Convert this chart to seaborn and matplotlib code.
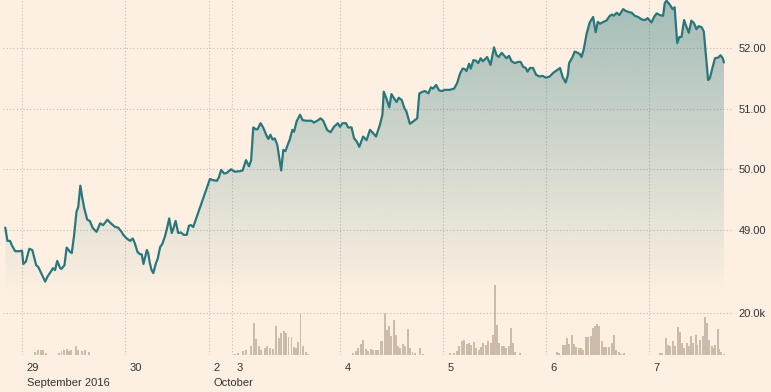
import numpy as np
import matplotlib
matplotlib.use('Agg')
import matplotlib.pyplot as plt
from matplotlib.colors import to_rgb
import seaborn as sns

# session hours with the weekend squeezed out, 0 = 29 Sep 00:00
hours = [-3.9, -3.4, -2.8, -2.3, -1.6, -0.5, 0.0, 0.3, 0.9, 1.7, 2.4, 3.3, 3.8, 4.6, 5.4, 6.0,
         6.5, 7.2, 7.7, 8.2, 8.9, 9.2, 9.9, 10.4, 11.2, 11.6, 12.1, 12.7, 13.1, 13.6, 14.0, 14.5,
         15.2, 15.8, 16.5, 17.4, 18.2, 18.9, 19.9, 20.7, 21.7, 22.4, 23.2, 23.6, 24.4, 25.2, 25.8,
         26.3, 26.9, 27.5, 27.9, 28.3, 29.1, 29.4, 29.8, 30.2, 30.6, 31.2, 31.6, 32.2, 32.7, 33.3,
         33.8, 34.3, 34.9, 35.3, 35.8, 36.4, 37.0, 37.7, 38.4, 38.9, 39.4, 39.9, 43.8, 44.6, 45.4,
         45.9, 46.4, 47.1, 47.7, 48.7, 49.6, 50.8, 51.4, 52.2, 52.9, 53.4, 53.9, 54.5, 54.9, 55.6,
         56.2, 56.9, 57.4, 57.9, 58.4, 58.9, 59.5, 59.9, 60.4, 60.9, 61.4, 61.9, 62.4, 63.0, 63.4,
         64.0, 64.8, 65.4, 66.3, 67.5, 68.0, 68.8, 69.6, 70.2, 71.1, 71.9, 72.7, 73.6, 74.1, 74.7,
         75.5, 76.0, 76.8, 77.4, 78.0, 78.6, 79.5, 80.3, 81.1, 81.9, 82.5, 83.4, 84.0, 84.3, 84.9,
         85.6, 86.1, 86.7, 87.3, 87.8, 88.5, 89.1, 89.6, 90.4, 91.0, 92.1, 92.6, 93.4, 93.9, 94.7,
         95.3, 95.8, 96.5, 97.2, 97.8, 98.6, 99.7, 100.7, 101.4, 102.1, 102.7, 103.2, 103.6, 104.2,
         104.6, 105.2, 105.8, 106.3, 106.9, 107.4, 108.4, 109.2, 110.0, 110.6, 111.1, 111.8, 112.3,
         112.9, 113.5, 114.1, 114.9, 115.6, 116.2, 116.8, 117.4, 117.8, 118.4, 119.1, 119.8, 120.5,
         121.3, 122.1, 123.0, 123.8, 124.4, 125.4, 126.0, 126.7, 127.2, 127.5, 128.3, 128.8, 129.5,
         130.0, 130.4, 130.9, 131.6, 132.3, 133.1, 133.7, 134.2, 134.7, 135.5, 136.2, 137.0, 137.5,
         137.9, 138.6, 139.2, 140.1, 140.7, 141.5, 142.1, 142.8, 143.6, 144.4, 145.2, 145.8, 146.7,
         147.3, 147.9, 148.7, 149.4, 149.8, 150.2, 151.0, 151.6, 152.1, 152.7, 153.2, 153.7, 154.3,
         154.9, 155.4, 156.0, 156.6, 157.2, 157.7, 158.4, 158.9, 159.4, 159.9, 160.3, 160.9, 161.5,
         162.2, 162.8, 163.3, 163.6]
price = [49.04, 48.82, 48.82, 48.74, 48.65, 48.65, 48.66, 48.44, 48.48, 48.69, 48.67, 48.42, 48.39,
         48.27, 48.15, 48.24, 48.29, 48.37, 48.34, 48.49, 48.37, 48.36, 48.42, 48.71, 48.64, 48.62,
         48.89, 49.30, 49.38, 49.73, 49.55, 49.36, 49.17, 49.15, 49.03, 48.97, 49.11, 49.08, 49.17,
         49.11, 49.05, 49.04, 48.97, 48.92, 48.86, 48.82, 48.86, 48.78, 48.64, 48.60, 48.60, 48.44,
         48.67, 48.62, 48.45, 48.34, 48.29, 48.45, 48.52, 48.72, 48.77, 48.89, 49.03, 49.19, 48.95,
         49.03, 49.15, 48.95, 48.96, 48.92, 48.92, 49.07, 49.08, 49.05, 49.84, 49.82, 49.81, 49.87,
         49.99, 49.93, 49.94, 50.00, 49.96, 49.97, 49.98, 50.15, 50.05, 50.15, 50.69, 50.66, 50.66,
         50.76, 50.69, 50.57, 50.50, 50.57, 50.49, 50.51, 50.40, 50.21, 49.98, 50.32, 50.30, 50.40,
         50.49, 50.65, 50.62, 50.79, 50.90, 50.81, 50.80, 50.80, 50.77, 50.80, 50.84, 50.80, 50.65,
         50.61, 50.70, 50.76, 50.70, 50.76, 50.76, 50.69, 50.69, 50.51, 50.46, 50.37, 50.54, 50.48,
         50.65, 50.59, 50.54, 50.73, 50.90, 51.28, 51.17, 51.02, 51.24, 51.17, 51.11, 51.18, 51.14,
         51.01, 50.95, 50.75, 50.78, 50.84, 51.25, 51.28, 51.29, 51.25, 51.35, 51.33, 51.39, 51.30,
         51.29, 51.31, 51.31, 51.33, 51.42, 51.58, 51.66, 51.65, 51.62, 51.74, 51.66, 51.80, 51.79,
         51.75, 51.83, 51.78, 51.85, 51.72, 52.01, 51.88, 51.85, 51.92, 51.88, 51.83, 51.87, 51.78,
         51.75, 51.77, 51.77, 51.69, 51.67, 51.61, 51.67, 51.67, 51.56, 51.53, 51.54, 51.51, 51.53,
         51.59, 51.62, 51.67, 51.52, 51.43, 51.55, 51.75, 51.85, 51.94, 51.92, 51.90, 51.85, 51.97,
         52.24, 52.42, 52.51, 52.26, 52.43, 52.40, 52.43, 52.45, 52.53, 52.55, 52.53, 52.58, 52.54,
         52.64, 52.61, 52.59, 52.58, 52.53, 52.51, 52.47, 52.46, 52.49, 52.42, 52.51, 52.57, 52.54,
         52.53, 52.74, 52.78, 52.71, 52.64, 52.67, 52.08, 52.18, 52.18, 52.46, 52.34, 52.25, 52.45,
         52.41, 52.31, 52.36, 52.34, 52.27, 51.86, 51.47, 51.50, 51.67, 51.83, 51.84, 51.88, 51.83,
         51.76]

vol_hours = [3.0, 3.8, 4.4, 5.0, 5.6, 8.7, 9.2, 9.8, 10.4, 11.0, 11.4, 12.6, 13.1, 13.9, 14.7, 15.7,
             49.6, 50.4, 51.4, 52.2, 53.3, 54.1, 54.6, 55.2, 55.8, 56.6, 57.2, 57.8, 58.4, 59.2,
             59.9, 60.3, 61.0, 61.6, 62.1, 62.8, 63.3, 63.8, 64.4, 64.9, 65.4, 66.2, 66.7,
             77.1, 77.8, 78.4, 78.9, 79.5, 80.1, 80.7, 81.3, 81.9, 82.5, 83.0, 83.6, 84.0, 84.5,
             85.0, 85.6, 86.0, 86.6, 87.1, 87.7, 88.2, 88.8, 89.3, 89.9, 90.5, 91.0, 91.6, 92.7, 93.4,
             99.7, 100.7, 101.3, 101.9, 102.5, 103.0, 103.6, 104.2, 104.7, 105.3, 105.8, 106.4,
             107.0, 107.5, 108.1, 108.7, 109.2, 109.7, 110.2, 110.7, 111.2, 111.8, 112.4, 112.9,
             113.4, 113.9, 114.5, 114.9, 116.0,
             124.7, 125.2, 126.0, 126.5, 127.0, 127.5, 128.2, 128.6, 129.2, 129.8, 130.3, 130.8,
             131.4, 132.0, 132.5, 133.1, 133.6, 134.1, 134.5, 135.1, 135.7, 136.2, 136.8, 137.4,
             137.9, 138.5, 139.2, 139.7, 140.3,
             148.7, 149.2, 150.0, 150.6, 151.1, 151.7, 152.2, 152.8, 153.3, 153.8, 154.3, 154.9,
             155.4, 155.9, 156.4, 157.0, 157.4, 158.0, 158.6, 159.1, 159.7, 160.1, 160.7, 161.2,
             161.6, 162.1, 162.5, 163.0, 163.6]
volume = [1260, 2200, 2500, 2200, 950, 950, 1700, 2200, 2800, 1700, 2500, 4400, 2200, 1700, 2200, 1600,
          600, 950, 1700, 2500, 4100, 15100, 7600, 4100, 2500, 3300, 4100, 3300, 2800, 13500,
          8000, 10400, 11500, 10400, 8500, 8500, 3800, 3300, 6300, 19800, 4100, 1300, 600,
          950, 1700, 3300, 5400, 7200, 2800, 1700, 2800, 2500, 2200, 2200, 6800, 6800, 19800,
          12000, 13900, 8800, 16700, 9600, 4100, 3300, 5400, 4100, 12300, 3300, 1300, 950, 3300, 600,
          950, 950, 2000, 4100, 6500, 7200, 5200, 5700, 4600, 6100, 3300, 2500,
          3800, 5700, 4900, 6500, 5700, 9600, 33200, 14300, 5700, 4100, 4400, 3300,
          4100, 13000, 5700, 1300, 950,
          1300, 950, 4900, 4900, 8000, 5400, 9600, 5400, 3800, 3300, 3300, 2200,
          8500, 8500, 8800, 12800, 13500, 14800, 13500, 6800, 3800, 3800, 3800, 5700,
          9600, 2200, 1300, 600, 950,
          950, 950, 7900, 4900, 4400, 6800, 4400, 13100, 10700, 5700, 3300, 5700,
          4100, 9100, 5700, 9600, 4900, 7200, 8800, 17800, 15100, 7200, 4100, 3300,
          4900, 12300, 2800, 1300, 600]

day_pos = [0, 24, 43.6, 48.9, 74.1, 98.1, 122.1, 146.1]
day_labels = ['29', '30', '2', '3', '4', '5', '6', '7']
month_pos = [0, 43.6]
month_labels = ['September 2016', 'October']
price_ticks = [49, 50, 51, 52]
vol_ticks = [20000]

bg = '#fdf0e2'
line_col = '#29777c'
bar_col = '#ccbba9'
grid_col = '#c5bcb2'
text_col = '#333333'

sns.set_theme(style='white')
plt.rcParams['font.family'] = ['Liberation Sans', 'DejaVu Sans']

W, H = 771, 392
fig = plt.figure(figsize=(W / 100, H / 100), dpi=100, facecolor=bg)
ax = fig.add_axes([3 / W, 1 - 355 / H, 730 / W, 355 / H])
ax.set_facecolor(bg)

# gradient under the price line, clipped to the area
base = 47.9
top = 52.79
area = ax.fill_between(hours, price, base, color='none', lw=0)
grad = np.zeros((256, 1, 4))
grad[..., :3] = to_rgb(line_col)
grad[:, 0, 3] = np.linspace(0, 0.42, 256)
im = ax.imshow(grad, extent=[hours[0], hours[-1], base, top], origin='lower',
               aspect='auto', zorder=1, interpolation='bilinear')
im.set_clip_path(area.get_paths()[0], ax.transData)

sns.lineplot(x=hours, y=price, ax=ax, color=line_col, lw=1.6, sort=False,
             estimator=None, zorder=3)

# volume on a twin axis, same x
ax2 = ax.twinx()
ax2.bar(vol_hours, volume, width=0.45, color=bar_col, lw=0, zorder=2)
ax2.set_ylim(0, 167850)
ax2.set_yticks(vol_ticks)
ax2.set_yticklabels(['20.0k'])
ax2.grid(True, axis='y', ls=(0, (1, 2)), color=grid_col, lw=0.8)
ax2.set_axisbelow(True)
ax2.tick_params(axis='y', length=0, pad=4, labelsize=8, labelcolor=text_col)
for s in ax2.spines.values():
    s.set_visible(False)

ax.set_xlim(-4.43, 165.7)
ax.set_ylim(46.94, top)
ax.set_xticks(day_pos)
ax.set_xticklabels([])
ax.set_yticks(price_ticks)
ax.set_yticklabels(['%.2f' % v for v in price_ticks])
ax.yaxis.tick_right()
ax.tick_params(axis='y', left=False, labelleft=False, right=False, labelright=True,
               length=0, pad=4, labelsize=8, labelcolor=text_col)
ax.grid(True, ls=(0, (1, 2)), color=grid_col, lw=0.8)
ax.tick_params(axis='x', length=6, width=0.8, color='#b5aca3', direction='out')
for s in ax.spines.values():
    s.set_visible(False)

for p, lab in zip(day_pos, day_labels):
    ax.annotate(lab, xy=(p, 0), xycoords=('data', 'axes fraction'), xytext=(3.4, -11.5),
                textcoords='offset points', ha='left', va='baseline', fontsize=8, color=text_col)
for p, lab in zip(month_pos, month_labels):
    ax.annotate(lab, xy=(p, 0), xycoords=('data', 'axes fraction'), xytext=(3.4, -22.5),
                textcoords='offset points', ha='left', va='baseline', fontsize=8, color=text_col)

fig.savefig('out.png', dpi=100, facecolor=bg)
